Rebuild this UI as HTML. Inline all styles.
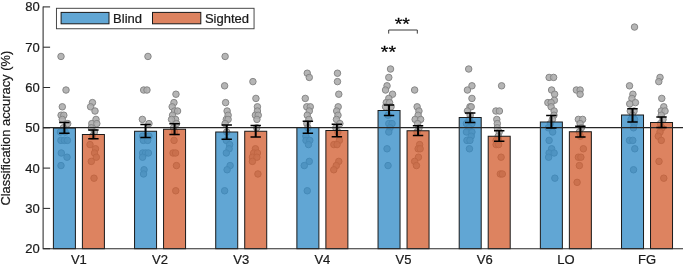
<!DOCTYPE html>
<html lang="en"><head><meta charset="utf-8"><title>Classification accuracy</title>
<style>html,body{margin:0;padding:0;background:#fff}body{width:685px;height:266px;overflow:hidden}svg{display:block;will-change:transform}text{font-family:"Liberation Sans",Arial,sans-serif;fill:#1a1a1a;stroke:#1a1a1a;stroke-width:.22px}</style>
</head><body>
<svg width="685" height="266" viewBox="0 0 685 266">
<rect width="685" height="266" fill="#fff"/>
<g fill="#adadad" fill-opacity="0.9" stroke="#848484" stroke-width="0.95">
<circle cx="61.00" cy="56.44" r="3.25"/>
<circle cx="66.00" cy="90.02" r="3.25"/>
<circle cx="62.30" cy="106.81" r="3.25"/>
<circle cx="61.10" cy="115.21" r="3.25"/>
<circle cx="63.80" cy="115.21" r="3.25"/>
<circle cx="62.30" cy="119.40" r="3.25"/>
<circle cx="67.70" cy="123.60" r="3.25"/>
<circle cx="63.40" cy="127.80" r="3.25"/>
<circle cx="60.40" cy="132.00" r="3.25"/>
<circle cx="65.20" cy="132.00" r="3.25"/>
<circle cx="60.90" cy="140.39" r="3.25"/>
<circle cx="64.40" cy="140.39" r="3.25"/>
<circle cx="67.40" cy="140.39" r="3.25"/>
<circle cx="61.30" cy="152.99" r="3.25"/>
<circle cx="67.00" cy="157.19" r="3.25"/>
<circle cx="61.00" cy="165.58" r="3.25"/>
<circle cx="92.45" cy="102.61" r="3.25"/>
<circle cx="90.60" cy="106.81" r="3.25"/>
<circle cx="95.00" cy="111.01" r="3.25"/>
<circle cx="96.00" cy="119.40" r="3.25"/>
<circle cx="91.80" cy="123.60" r="3.25"/>
<circle cx="96.80" cy="123.60" r="3.25"/>
<circle cx="91.30" cy="127.80" r="3.25"/>
<circle cx="94.40" cy="132.00" r="3.25"/>
<circle cx="92.40" cy="136.20" r="3.25"/>
<circle cx="90.00" cy="144.59" r="3.25"/>
<circle cx="95.50" cy="148.79" r="3.25"/>
<circle cx="94.50" cy="152.99" r="3.25"/>
<circle cx="96.30" cy="157.19" r="3.25"/>
<circle cx="91.30" cy="161.38" r="3.25"/>
<circle cx="94.00" cy="178.18" r="3.25"/>
<circle cx="147.96" cy="56.44" r="3.25"/>
<circle cx="143.66" cy="90.02" r="3.25"/>
<circle cx="146.96" cy="90.02" r="3.25"/>
<circle cx="142.36" cy="119.40" r="3.25"/>
<circle cx="148.96" cy="123.60" r="3.25"/>
<circle cx="142.66" cy="136.20" r="3.25"/>
<circle cx="148.96" cy="136.20" r="3.25"/>
<circle cx="143.36" cy="140.39" r="3.25"/>
<circle cx="147.66" cy="140.39" r="3.25"/>
<circle cx="142.66" cy="152.99" r="3.25"/>
<circle cx="145.56" cy="152.99" r="3.25"/>
<circle cx="148.36" cy="152.99" r="3.25"/>
<circle cx="142.56" cy="157.19" r="3.25"/>
<circle cx="144.06" cy="169.78" r="3.25"/>
<circle cx="143.56" cy="173.98" r="3.25"/>
<circle cx="175.96" cy="94.22" r="3.25"/>
<circle cx="173.96" cy="102.61" r="3.25"/>
<circle cx="172.16" cy="106.81" r="3.25"/>
<circle cx="174.56" cy="111.01" r="3.25"/>
<circle cx="177.56" cy="111.01" r="3.25"/>
<circle cx="172.56" cy="115.21" r="3.25"/>
<circle cx="175.56" cy="119.40" r="3.25"/>
<circle cx="171.56" cy="119.40" r="3.25"/>
<circle cx="176.56" cy="123.60" r="3.25"/>
<circle cx="173.56" cy="127.80" r="3.25"/>
<circle cx="174.06" cy="140.39" r="3.25"/>
<circle cx="173.06" cy="152.99" r="3.25"/>
<circle cx="175.56" cy="152.99" r="3.25"/>
<circle cx="176.46" cy="165.58" r="3.25"/>
<circle cx="175.76" cy="190.77" r="3.25"/>
<circle cx="174.56" cy="132.00" r="3.25"/>
<circle cx="225.12" cy="56.44" r="3.25"/>
<circle cx="224.62" cy="85.82" r="3.25"/>
<circle cx="225.62" cy="102.61" r="3.25"/>
<circle cx="227.12" cy="111.01" r="3.25"/>
<circle cx="228.12" cy="115.21" r="3.25"/>
<circle cx="226.32" cy="119.40" r="3.25"/>
<circle cx="228.12" cy="119.40" r="3.25"/>
<circle cx="225.12" cy="123.60" r="3.25"/>
<circle cx="226.72" cy="132.00" r="3.25"/>
<circle cx="226.32" cy="140.39" r="3.25"/>
<circle cx="229.62" cy="144.59" r="3.25"/>
<circle cx="229.12" cy="148.79" r="3.25"/>
<circle cx="226.32" cy="152.99" r="3.25"/>
<circle cx="230.12" cy="165.58" r="3.25"/>
<circle cx="227.12" cy="169.78" r="3.25"/>
<circle cx="224.62" cy="190.77" r="3.25"/>
<circle cx="252.92" cy="81.62" r="3.25"/>
<circle cx="255.92" cy="98.41" r="3.25"/>
<circle cx="257.42" cy="106.81" r="3.25"/>
<circle cx="257.42" cy="111.01" r="3.25"/>
<circle cx="255.42" cy="115.21" r="3.25"/>
<circle cx="258.22" cy="115.21" r="3.25"/>
<circle cx="256.92" cy="119.40" r="3.25"/>
<circle cx="256.72" cy="127.80" r="3.25"/>
<circle cx="255.42" cy="148.79" r="3.25"/>
<circle cx="253.72" cy="152.99" r="3.25"/>
<circle cx="257.42" cy="152.99" r="3.25"/>
<circle cx="252.42" cy="157.19" r="3.25"/>
<circle cx="256.92" cy="157.19" r="3.25"/>
<circle cx="252.42" cy="161.38" r="3.25"/>
<circle cx="257.92" cy="173.98" r="3.25"/>
<circle cx="307.28" cy="73.23" r="3.25"/>
<circle cx="309.28" cy="77.43" r="3.25"/>
<circle cx="305.28" cy="98.41" r="3.25"/>
<circle cx="306.78" cy="106.81" r="3.25"/>
<circle cx="310.28" cy="106.81" r="3.25"/>
<circle cx="309.28" cy="111.01" r="3.25"/>
<circle cx="307.28" cy="115.21" r="3.25"/>
<circle cx="308.88" cy="119.40" r="3.25"/>
<circle cx="306.88" cy="123.60" r="3.25"/>
<circle cx="307.88" cy="127.80" r="3.25"/>
<circle cx="305.88" cy="136.20" r="3.25"/>
<circle cx="305.98" cy="140.39" r="3.25"/>
<circle cx="309.78" cy="140.39" r="3.25"/>
<circle cx="308.48" cy="144.59" r="3.25"/>
<circle cx="309.28" cy="161.38" r="3.25"/>
<circle cx="304.28" cy="165.58" r="3.25"/>
<circle cx="307.28" cy="190.77" r="3.25"/>
<circle cx="337.48" cy="73.23" r="3.25"/>
<circle cx="337.48" cy="81.62" r="3.25"/>
<circle cx="338.78" cy="94.22" r="3.25"/>
<circle cx="338.18" cy="106.81" r="3.25"/>
<circle cx="336.68" cy="111.01" r="3.25"/>
<circle cx="337.98" cy="115.21" r="3.25"/>
<circle cx="336.48" cy="119.40" r="3.25"/>
<circle cx="339.88" cy="123.60" r="3.25"/>
<circle cx="335.88" cy="127.80" r="3.25"/>
<circle cx="337.88" cy="132.00" r="3.25"/>
<circle cx="339.38" cy="140.39" r="3.25"/>
<circle cx="333.88" cy="144.59" r="3.25"/>
<circle cx="337.08" cy="144.59" r="3.25"/>
<circle cx="338.78" cy="161.38" r="3.25"/>
<circle cx="336.28" cy="165.58" r="3.25"/>
<circle cx="333.78" cy="169.78" r="3.25"/>
<circle cx="390.54" cy="69.03" r="3.25"/>
<circle cx="388.79" cy="77.43" r="3.25"/>
<circle cx="387.04" cy="85.82" r="3.25"/>
<circle cx="385.54" cy="90.02" r="3.25"/>
<circle cx="392.54" cy="94.22" r="3.25"/>
<circle cx="388.79" cy="98.41" r="3.25"/>
<circle cx="386.29" cy="102.61" r="3.25"/>
<circle cx="389.54" cy="102.61" r="3.25"/>
<circle cx="385.54" cy="106.81" r="3.25"/>
<circle cx="391.04" cy="106.81" r="3.25"/>
<circle cx="388.04" cy="115.21" r="3.25"/>
<circle cx="388.79" cy="123.60" r="3.25"/>
<circle cx="392.04" cy="123.60" r="3.25"/>
<circle cx="390.04" cy="127.80" r="3.25"/>
<circle cx="388.79" cy="132.00" r="3.25"/>
<circle cx="387.04" cy="148.79" r="3.25"/>
<circle cx="388.04" cy="165.58" r="3.25"/>
<circle cx="414.64" cy="90.02" r="3.25"/>
<circle cx="417.14" cy="106.81" r="3.25"/>
<circle cx="418.94" cy="111.01" r="3.25"/>
<circle cx="418.14" cy="115.21" r="3.25"/>
<circle cx="415.14" cy="119.40" r="3.25"/>
<circle cx="420.64" cy="119.40" r="3.25"/>
<circle cx="417.64" cy="123.60" r="3.25"/>
<circle cx="419.04" cy="127.80" r="3.25"/>
<circle cx="417.04" cy="132.00" r="3.25"/>
<circle cx="419.64" cy="144.59" r="3.25"/>
<circle cx="418.14" cy="148.79" r="3.25"/>
<circle cx="420.14" cy="148.79" r="3.25"/>
<circle cx="418.44" cy="157.19" r="3.25"/>
<circle cx="414.64" cy="161.38" r="3.25"/>
<circle cx="416.44" cy="165.58" r="3.25"/>
<circle cx="468.70" cy="69.03" r="3.25"/>
<circle cx="471.95" cy="85.82" r="3.25"/>
<circle cx="467.45" cy="90.02" r="3.25"/>
<circle cx="471.95" cy="98.41" r="3.25"/>
<circle cx="469.95" cy="106.81" r="3.25"/>
<circle cx="471.20" cy="106.81" r="3.25"/>
<circle cx="467.45" cy="111.01" r="3.25"/>
<circle cx="470.20" cy="115.21" r="3.25"/>
<circle cx="469.20" cy="119.40" r="3.25"/>
<circle cx="466.45" cy="123.60" r="3.25"/>
<circle cx="471.95" cy="123.60" r="3.25"/>
<circle cx="468.95" cy="127.80" r="3.25"/>
<circle cx="466.45" cy="132.00" r="3.25"/>
<circle cx="471.95" cy="132.00" r="3.25"/>
<circle cx="471.20" cy="136.20" r="3.25"/>
<circle cx="466.95" cy="140.39" r="3.25"/>
<circle cx="469.95" cy="140.39" r="3.25"/>
<circle cx="469.45" cy="148.79" r="3.25"/>
<circle cx="501.60" cy="85.82" r="3.25"/>
<circle cx="495.90" cy="111.01" r="3.25"/>
<circle cx="499.40" cy="111.01" r="3.25"/>
<circle cx="496.80" cy="119.40" r="3.25"/>
<circle cx="497.30" cy="123.60" r="3.25"/>
<circle cx="497.30" cy="127.80" r="3.25"/>
<circle cx="499.20" cy="132.00" r="3.25"/>
<circle cx="498.20" cy="136.20" r="3.25"/>
<circle cx="496.10" cy="140.39" r="3.25"/>
<circle cx="498.60" cy="140.39" r="3.25"/>
<circle cx="496.10" cy="144.59" r="3.25"/>
<circle cx="498.60" cy="144.59" r="3.25"/>
<circle cx="501.10" cy="157.19" r="3.25"/>
<circle cx="500.30" cy="173.98" r="3.25"/>
<circle cx="502.30" cy="173.98" r="3.25"/>
<circle cx="549.11" cy="77.43" r="3.25"/>
<circle cx="553.61" cy="77.43" r="3.25"/>
<circle cx="551.61" cy="90.02" r="3.25"/>
<circle cx="554.61" cy="94.22" r="3.25"/>
<circle cx="554.36" cy="100.30" r="3.25"/>
<circle cx="547.86" cy="102.61" r="3.25"/>
<circle cx="551.11" cy="102.61" r="3.25"/>
<circle cx="551.11" cy="106.81" r="3.25"/>
<circle cx="554.11" cy="111.01" r="3.25"/>
<circle cx="553.96" cy="115.21" r="3.25"/>
<circle cx="552.36" cy="119.40" r="3.25"/>
<circle cx="550.36" cy="123.60" r="3.25"/>
<circle cx="548.36" cy="127.80" r="3.25"/>
<circle cx="552.66" cy="132.00" r="3.25"/>
<circle cx="549.11" cy="140.39" r="3.25"/>
<circle cx="551.61" cy="148.79" r="3.25"/>
<circle cx="549.11" cy="152.99" r="3.25"/>
<circle cx="554.11" cy="152.99" r="3.25"/>
<circle cx="548.61" cy="157.19" r="3.25"/>
<circle cx="554.86" cy="178.18" r="3.25"/>
<circle cx="576.36" cy="90.02" r="3.25"/>
<circle cx="580.11" cy="90.02" r="3.25"/>
<circle cx="580.11" cy="94.22" r="3.25"/>
<circle cx="578.36" cy="119.40" r="3.25"/>
<circle cx="582.61" cy="119.40" r="3.25"/>
<circle cx="580.11" cy="123.60" r="3.25"/>
<circle cx="581.36" cy="127.80" r="3.25"/>
<circle cx="579.36" cy="132.00" r="3.25"/>
<circle cx="580.36" cy="136.20" r="3.25"/>
<circle cx="583.36" cy="148.79" r="3.25"/>
<circle cx="578.36" cy="157.19" r="3.25"/>
<circle cx="580.86" cy="157.19" r="3.25"/>
<circle cx="579.36" cy="165.58" r="3.25"/>
<circle cx="577.11" cy="182.37" r="3.25"/>
<circle cx="634.52" cy="27.05" r="3.25"/>
<circle cx="629.52" cy="85.82" r="3.25"/>
<circle cx="632.92" cy="94.22" r="3.25"/>
<circle cx="631.92" cy="98.41" r="3.25"/>
<circle cx="635.42" cy="102.61" r="3.25"/>
<circle cx="629.72" cy="103.87" r="3.25"/>
<circle cx="630.27" cy="111.01" r="3.25"/>
<circle cx="634.02" cy="111.01" r="3.25"/>
<circle cx="632.52" cy="115.21" r="3.25"/>
<circle cx="631.02" cy="119.40" r="3.25"/>
<circle cx="634.52" cy="119.40" r="3.25"/>
<circle cx="634.02" cy="123.60" r="3.25"/>
<circle cx="633.52" cy="127.80" r="3.25"/>
<circle cx="629.52" cy="140.39" r="3.25"/>
<circle cx="632.77" cy="140.39" r="3.25"/>
<circle cx="634.77" cy="148.79" r="3.25"/>
<circle cx="633.52" cy="169.78" r="3.25"/>
<circle cx="660.02" cy="77.43" r="3.25"/>
<circle cx="658.77" cy="81.62" r="3.25"/>
<circle cx="661.77" cy="98.41" r="3.25"/>
<circle cx="663.77" cy="106.81" r="3.25"/>
<circle cx="661.27" cy="111.01" r="3.25"/>
<circle cx="665.02" cy="111.01" r="3.25"/>
<circle cx="661.27" cy="115.21" r="3.25"/>
<circle cx="663.02" cy="119.40" r="3.25"/>
<circle cx="660.52" cy="123.60" r="3.25"/>
<circle cx="662.02" cy="127.80" r="3.25"/>
<circle cx="660.02" cy="132.00" r="3.25"/>
<circle cx="658.27" cy="136.20" r="3.25"/>
<circle cx="661.27" cy="140.39" r="3.25"/>
<circle cx="659.02" cy="161.38" r="3.25"/>
<circle cx="663.77" cy="178.18" r="3.25"/>
</g>
<rect x="53.40" y="128.00" width="22.00" height="120.70" fill="#2f8ac6" fill-opacity="0.76" stroke="#1a1a1a" stroke-width="1"/>
<rect x="82.40" y="134.50" width="22.00" height="114.20" fill="#d25c2e" fill-opacity="0.76" stroke="#1a1a1a" stroke-width="1"/>
<rect x="134.56" y="131.25" width="22.00" height="117.45" fill="#2f8ac6" fill-opacity="0.76" stroke="#1a1a1a" stroke-width="1"/>
<rect x="163.56" y="129.25" width="22.00" height="119.45" fill="#d25c2e" fill-opacity="0.76" stroke="#1a1a1a" stroke-width="1"/>
<rect x="215.72" y="132.00" width="22.00" height="116.70" fill="#2f8ac6" fill-opacity="0.76" stroke="#1a1a1a" stroke-width="1"/>
<rect x="244.72" y="131.25" width="22.00" height="117.45" fill="#d25c2e" fill-opacity="0.76" stroke="#1a1a1a" stroke-width="1"/>
<rect x="296.88" y="127.50" width="22.00" height="121.20" fill="#2f8ac6" fill-opacity="0.76" stroke="#1a1a1a" stroke-width="1"/>
<rect x="325.88" y="130.50" width="22.00" height="118.20" fill="#d25c2e" fill-opacity="0.76" stroke="#1a1a1a" stroke-width="1"/>
<rect x="378.04" y="110.50" width="22.00" height="138.20" fill="#2f8ac6" fill-opacity="0.76" stroke="#1a1a1a" stroke-width="1"/>
<rect x="407.04" y="130.75" width="22.00" height="117.95" fill="#d25c2e" fill-opacity="0.76" stroke="#1a1a1a" stroke-width="1"/>
<rect x="459.20" y="117.50" width="22.00" height="131.20" fill="#2f8ac6" fill-opacity="0.76" stroke="#1a1a1a" stroke-width="1"/>
<rect x="488.20" y="136.25" width="22.00" height="112.45" fill="#d25c2e" fill-opacity="0.76" stroke="#1a1a1a" stroke-width="1"/>
<rect x="540.36" y="122.00" width="22.00" height="126.70" fill="#2f8ac6" fill-opacity="0.76" stroke="#1a1a1a" stroke-width="1"/>
<rect x="569.36" y="131.75" width="22.00" height="116.95" fill="#d25c2e" fill-opacity="0.76" stroke="#1a1a1a" stroke-width="1"/>
<rect x="621.52" y="115.00" width="22.00" height="133.70" fill="#2f8ac6" fill-opacity="0.76" stroke="#1a1a1a" stroke-width="1"/>
<rect x="650.52" y="122.50" width="22.00" height="126.20" fill="#d25c2e" fill-opacity="0.76" stroke="#1a1a1a" stroke-width="1"/>
<line x1="43.10" y1="127.60" x2="683" y2="127.60" stroke="#262626" stroke-width="1.1"/>
<g stroke="#000" stroke-width="1.7" fill="none">
<path d="M64.40 122.50V133.25" stroke-width="2"/><path d="M59.20 122.50h10.4M59.20 133.25h10.4"/>
<path d="M93.40 130.00V138.75" stroke-width="2"/><path d="M88.20 130.00h10.4M88.20 138.75h10.4"/>
<path d="M145.56 124.50V137.50" stroke-width="2"/><path d="M140.36 124.50h10.4M140.36 137.50h10.4"/>
<path d="M174.56 123.75V134.50" stroke-width="2"/><path d="M169.36 123.75h10.4M169.36 134.50h10.4"/>
<path d="M226.72 125.00V139.25" stroke-width="2"/><path d="M221.52 125.00h10.4M221.52 139.25h10.4"/>
<path d="M255.72 125.50V137.00" stroke-width="2"/><path d="M250.52 125.50h10.4M250.52 137.00h10.4"/>
<path d="M307.88 121.25V133.25" stroke-width="2"/><path d="M302.68 121.25h10.4M302.68 133.25h10.4"/>
<path d="M336.88 124.25V136.75" stroke-width="2"/><path d="M331.68 124.25h10.4M331.68 136.75h10.4"/>
<path d="M389.04 105.00V115.50" stroke-width="2"/><path d="M383.84 105.00h10.4M383.84 115.50h10.4"/>
<path d="M418.04 125.75V135.50" stroke-width="2"/><path d="M412.84 125.75h10.4M412.84 135.50h10.4"/>
<path d="M470.20 113.00V122.50" stroke-width="2"/><path d="M465.00 113.00h10.4M465.00 122.50h10.4"/>
<path d="M499.20 130.75V141.25" stroke-width="2"/><path d="M494.00 130.75h10.4M494.00 141.25h10.4"/>
<path d="M551.36 115.50V128.00" stroke-width="2"/><path d="M546.16 115.50h10.4M546.16 128.00h10.4"/>
<path d="M580.36 126.25V137.00" stroke-width="2"/><path d="M575.16 126.25h10.4M575.16 137.00h10.4"/>
<path d="M632.52 108.75V122.00" stroke-width="2"/><path d="M627.32 108.75h10.4M627.32 122.00h10.4"/>
<path d="M661.52 117.00V127.50" stroke-width="2"/><path d="M656.32 117.00h10.4M656.32 127.50h10.4"/>
</g>
<g stroke="#2a2a2a" stroke-width="1.05" fill="none">
<path d="M43.10 6.40V248.70H683"/>
<line x1="43.10" y1="248.70" x2="50.10" y2="248.70"/>
<line x1="43.10" y1="208.40" x2="50.10" y2="208.40"/>
<line x1="43.10" y1="168.10" x2="50.10" y2="168.10"/>
<line x1="43.10" y1="127.80" x2="50.10" y2="127.80"/>
<line x1="43.10" y1="87.50" x2="50.10" y2="87.50"/>
<line x1="43.10" y1="47.20" x2="50.10" y2="47.20"/>
<line x1="43.10" y1="6.90" x2="50.10" y2="6.90"/>
</g>
<g font-size="13" text-anchor="end">
<text x="39.7" y="253.10">20</text>
<text x="39.7" y="212.80">30</text>
<text x="39.7" y="172.50">40</text>
<text x="39.7" y="132.20">50</text>
<text x="39.7" y="91.90">60</text>
<text x="39.7" y="51.60">70</text>
<text x="39.7" y="11.30">80</text>
</g>
<g font-size="13" text-anchor="middle">
<text x="78.90" y="264.1">V1</text>
<text x="160.06" y="264.1">V2</text>
<text x="241.22" y="264.1">V3</text>
<text x="322.38" y="264.1">V4</text>
<text x="403.54" y="264.1">V5</text>
<text x="484.70" y="264.1">V6</text>
<text x="565.86" y="264.1">LO</text>
<text x="647.02" y="264.1">FG</text>
</g>
<text font-size="12.9" text-anchor="middle" transform="translate(10.2 128.2) rotate(-90)">Classification accuracy (%)</text>
<g font-size="19.5" text-anchor="middle" style="fill:#000;stroke:#000;stroke-width:.3px"><text transform="translate(388.4 57.9) scale(1 .84)" style="fill:#000;stroke:#000;stroke-width:.3px">**</text><text transform="translate(402.3 29.7) scale(1 .84)" style="fill:#000;stroke:#000;stroke-width:.3px">**</text></g>
<path d="M388.7 33.6V30H417.3V33.6" stroke="#3a3a3a" stroke-width="1" fill="none"/>
<rect x="56.45" y="8.3" width="197.6" height="20.45" fill="#fff" stroke="#404040" stroke-width="0.95"/>
<rect x="61.1" y="12.4" width="47.9" height="11.4" fill="#61a6d4" stroke="#1a1a1a" stroke-width="1"/>
<rect x="152.5" y="12.4" width="48.3" height="11.4" fill="#dd8360" stroke="#1a1a1a" stroke-width="1"/>
<g font-size="13"><text x="113.1" y="23">Blind</text><text x="204.9" y="23">Sighted</text></g>
</svg>
</body></html>
